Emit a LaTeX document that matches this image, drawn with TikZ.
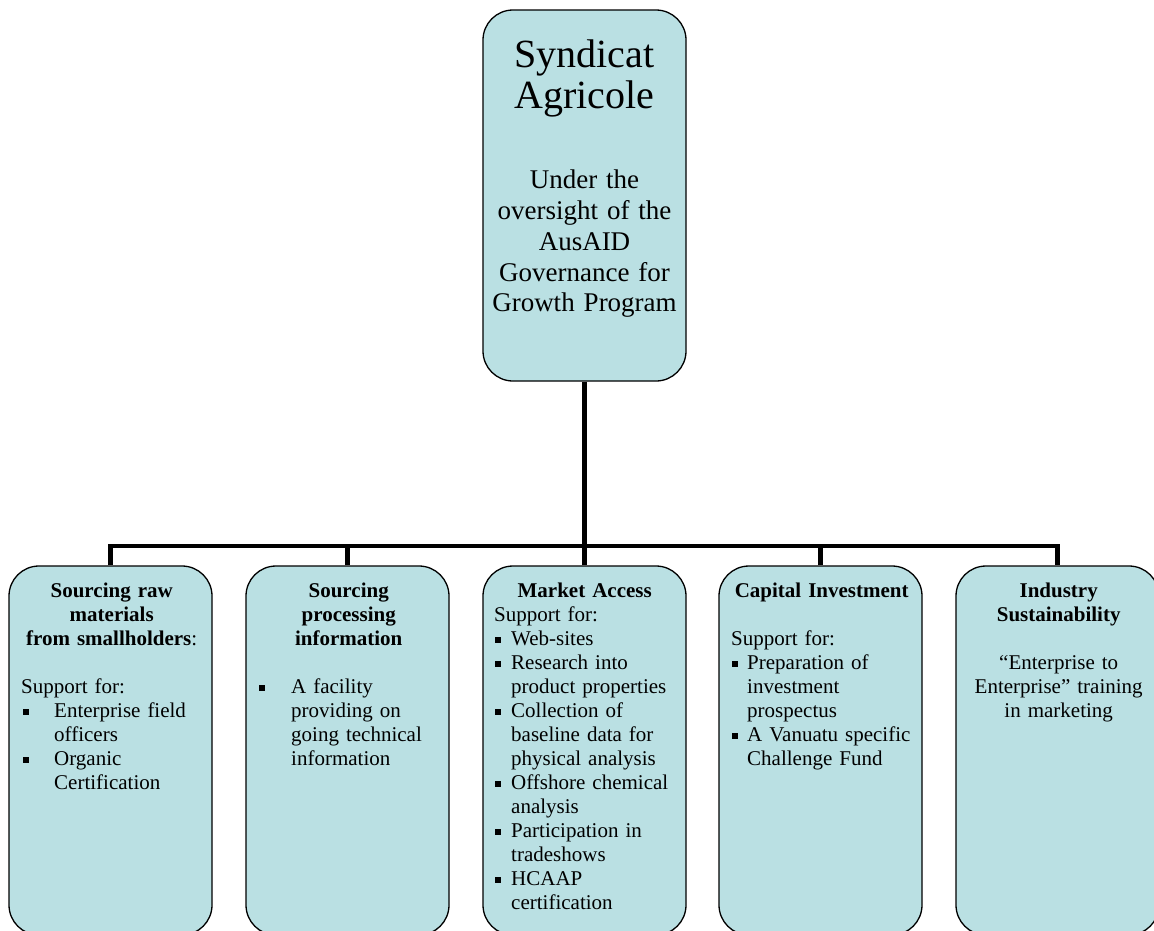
\documentclass[tikz,border=0pt]{standalone}
\usepackage{fontspec}
\setmainfont{Liberation Serif}
\definecolor{boxfill}{RGB}{186,224,227}
\newcommand\bul[3]{\par\hangindent=#1\hangafter=1\noindent\makebox[#1][l]{\hspace{#2}\rule[2.5pt]{5.8pt}{5.8pt}}#3}
\tikzset{
  box/.style={draw=black, line width=1.3pt, fill=boxfill, rounded corners=30pt,
    inner sep=0pt, minimum width=203pt},
  conn/.style={line width=4.3pt, line join=miter},
  txt/.style={anchor=north west, inner sep=0pt, text width=181pt, align=left,
    font=\fontsize{21}{24}\selectfont},
  toptxt/.style={anchor=north, inner sep=0pt, text width=195pt, align=center,
    font=\fontsize{27}{30.7}\selectfont}
}
\begin{document}
\begin{tikzpicture}[x=1pt,y=-1pt]
\useasboundingbox (0,0) rectangle (1154,930);
\clip (0,0) rectangle (1154,930);
% top box
\node[box, minimum height=371pt] (top) at (584.5,195.5) {};
\node[toptxt] (toptext) at (584.5,38.3) {%
  {\fontsize{40}{41}\selectfont\strut Syndicat\\Agricole\par}
  \vspace{50pt}
  {Under the\\oversight of the\\AusAID\\Governance for\\Growth Program\par}};
% bottom boxes
\node[box, minimum height=369pt] (b1) at (110.5,750.5) {};
\node[box, minimum height=369pt] (b2) at (347.5,750.5) {};
\node[box, minimum height=369pt] (b3) at (584.5,750.5) {};
\node[box, minimum height=369pt] (b4) at (820.5,750.5) {};
\node[box, minimum height=369pt] (b5) at (1057.5,750.5) {};
% connectors
\coordinate (hub) at (584.5,546);
\draw[conn] (top.south) -- (hub);
\draw[conn] (b1.north) -- (b1.north |- hub) -- (b5.north |- hub) -- (b5.north);
\draw[conn] (b2.north) -- (b2.north |- hub);
\draw[conn] (b3.north) -- (b3.north |- hub);
\draw[conn] (b4.north) -- (b4.north |- hub);
% texts
\node[txt] (t1) at (21,580.2) {%
  {\centering\strut\textbf{Sourcing raw\\materials\\from smallholders}:\par}
  \vspace{24pt}
  \noindent Support for:
  \bul{33pt}{2pt}{Enterprise field\newline officers}
  \bul{33pt}{2pt}{Organic\newline Certification}\par};
\node[txt] (t2) at (258,580.2) {%
  {\centering\strut\textbf{Sourcing\\processing\\information}\par}
  \vspace{24pt}
  \bul{33pt}{1pt}{A facility\newline providing on\newline going technical\newline information}\par};
\node[txt] (t3) at (494,580.2) {%
  {\centering\strut\textbf{Market Access}\par}
  \noindent Support for:
  \bul{17pt}{1pt}{Web-sites}
  \bul{17pt}{1pt}{Research into\newline product properties}
  \bul{17pt}{1pt}{Collection of\newline baseline data for\newline physical analysis}
  \bul{17pt}{1pt}{Offshore chemical\newline analysis}
  \bul{17pt}{1pt}{Participation in\newline tradeshows}
  \bul{17pt}{1pt}{HCAAP\newline certification}\par};
\node[txt] (t4) at (731,580.2) {%
  {\centering\strut\textbf{Capital Investment}\par}
  \vspace{24pt}
  \noindent Support for:
  \bul{16pt}{1pt}{Preparation of\newline investment\newline prospectus}
  \bul{16pt}{1pt}{A Vanuatu specific\newline Challenge Fund}\par};
\node[txt] (t5) at (968,580.2) {%
  {\centering\strut\textbf{Industry\\Sustainability}\par}
  \vspace{24pt}
  {\centering “Enterprise to\\Enterprise” training\\in marketing\par}};
\end{tikzpicture}
\end{document}
